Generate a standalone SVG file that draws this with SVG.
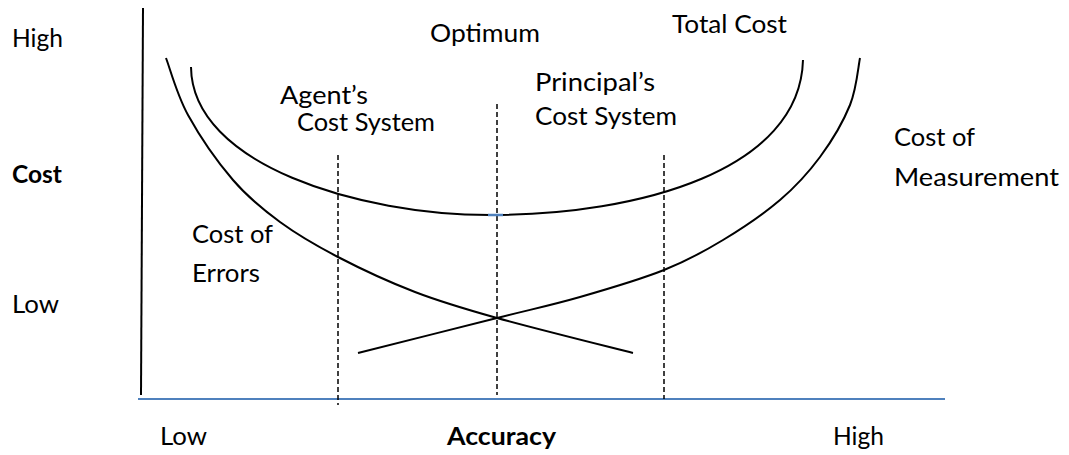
<svg xmlns="http://www.w3.org/2000/svg" width="1069" height="455" viewBox="0 0 1069 455">
<style>
.t{font-family:Lato,"Open Sans","Noto Sans",sans-serif;font-size:25px;fill:#000}
.b{font-weight:bold}
.c{fill:none;stroke:#000;stroke-width:2}
.d{fill:none;stroke:#000;stroke-width:1.5;stroke-dasharray:5 3}
</style>
<rect width="1069" height="455" fill="#fff"/>
<g id="axes">
<line x1="143" y1="8" x2="141" y2="395" stroke="#000" stroke-width="2"/>
<line x1="138" y1="399" x2="945" y2="399" stroke="#4F81BD" stroke-width="2"/>
</g>
<g id="connectors">
<path id="cost-of-errors" class="c" d="M166,58 C169.7,67.5 176.8,94.7 188,115 C199.2,135.3 217.7,162.2 233,180 C248.3,197.8 262.5,209.2 280,222 C297.5,234.8 315.5,245.3 338,257 C360.5,268.7 388.5,281.8 415,292 C441.5,302.2 460.7,307.8 497,318 C533.3,328.2 610.3,347.2 633,353"/>
<path id="cost-of-measurement" class="c" d="M358,353 C381.2,347.2 460,327.3 497,318 C534,308.7 552.2,305 580,297 C607.8,289 640.2,279.5 664,270 C687.8,260.5 703.7,251.7 723,240 C742.3,228.3 763.8,213.8 780,200 C796.2,186.2 808.3,172.8 820,157 C831.7,141.2 843.3,121.5 850,105 C856.7,88.5 858.3,65.8 860,58"/>
<path id="total-cost" class="c" d="M191,67 C192,165 360,215 490,215 C640,215 800,170 803,60"/>
<line class="d" x1="338" y1="155" x2="338" y2="405"/>
<line class="d" x1="497" y1="104" x2="497" y2="395"/>
<line class="d" x1="664" y1="155" x2="664" y2="399"/>
<line x1="488" y1="215" x2="503" y2="215" stroke="#4F81BD" stroke-width="2.5"/>
</g>
<g id="label-high-y"><text class="t" x="12" y="47" textLength="51" lengthAdjust="spacingAndGlyphs">High</text></g>
<g id="label-cost"><text class="t b" x="12" y="183" textLength="50" lengthAdjust="spacingAndGlyphs">Cost</text></g>
<g id="label-low-y"><text class="t" x="12" y="313" textLength="47" lengthAdjust="spacingAndGlyphs">Low</text></g>
<g id="label-optimum"><text class="t" x="430" y="42" textLength="110" lengthAdjust="spacingAndGlyphs">Optimum</text></g>
<g id="label-total-cost"><text class="t" x="672" y="33" textLength="115" lengthAdjust="spacingAndGlyphs">Total Cost</text></g>
<g id="label-agent"><text class="t" x="280" y="104" textLength="88" lengthAdjust="spacingAndGlyphs">Agent’s</text><text class="t" x="297" y="131" textLength="138" lengthAdjust="spacingAndGlyphs">Cost System</text></g>
<g id="label-principal"><text class="t" x="535" y="91" textLength="120" lengthAdjust="spacingAndGlyphs">Principal’s</text><text class="t" x="535" y="125" textLength="142" lengthAdjust="spacingAndGlyphs">Cost System</text></g>
<g id="label-errors"><text class="t" x="192" y="243" textLength="81" lengthAdjust="spacingAndGlyphs">Cost of</text><text class="t" x="192" y="282" textLength="68" lengthAdjust="spacingAndGlyphs">Errors</text></g>
<g id="label-measurement"><text class="t" x="894" y="146" textLength="81" lengthAdjust="spacingAndGlyphs">Cost of</text><text class="t" x="894" y="186" textLength="165" lengthAdjust="spacingAndGlyphs">Measurement</text></g>
<g id="label-low-x"><text class="t" x="160" y="445" textLength="47" lengthAdjust="spacingAndGlyphs">Low</text></g>
<g id="label-accuracy"><text class="t b" x="447" y="445" textLength="109" lengthAdjust="spacingAndGlyphs">Accuracy</text></g>
<g id="label-high-x"><text class="t" x="833" y="445" textLength="51" lengthAdjust="spacingAndGlyphs">High</text></g>
</svg>
